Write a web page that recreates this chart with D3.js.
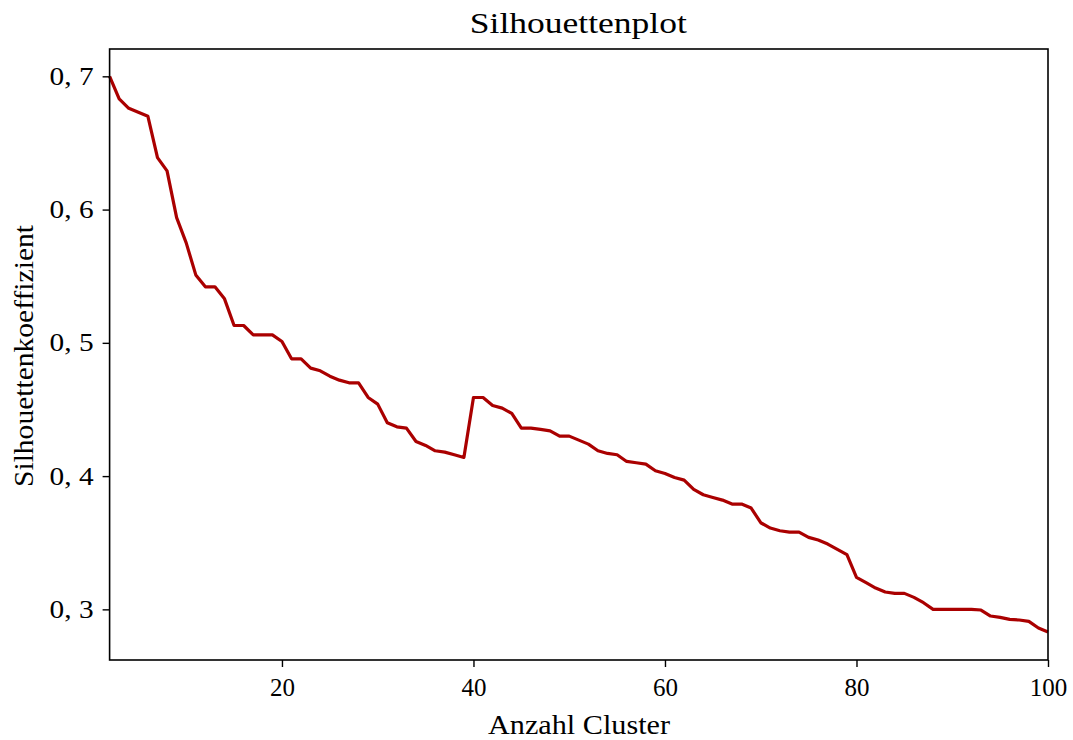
<!DOCTYPE html>
<html><head><meta charset="utf-8">
<script src="https://cdn.jsdelivr.net/npm/d3@7"></script>
<style>
html,body{margin:0;padding:0;background:#fff;}
svg text{font-family:"Liberation Serif","DejaVu Serif",serif;fill:#000;}
</style></head>
<body><svg id="c" width="1073" height="740"></svg>
<script>
const clusters = [2,3,4,5,6,7,8,9,10,11,12,13,14,15,16,17,18,19,20,21,22,23,24,25,26,27,28,29,30,31,32,33,34,35,36,37,38,39,40,41,42,43,44,45,46,47,48,49,50,51,52,53,54,55,56,57,58,59,60,61,62,63,64,65,66,67,68,69,70,71,72,73,74,75,76,77,78,79,80,81,82,83,84,85,86,87,88,89,90,91,92,93,94,95,96,97,98,99,100];
const silhouette = [0.700,0.683,0.676,0.673,0.670,0.639,0.629,0.594,0.575,0.551,0.542,0.542,0.533,0.513,0.513,0.506,0.506,0.506,0.501,0.488,0.488,0.481,0.479,0.475,0.472,0.470,0.470,0.459,0.454,0.440,0.437,0.436,0.426,0.423,0.419,0.418,0.416,0.414,0.459,0.459,0.453,0.451,0.447,0.436,0.436,0.435,0.434,0.430,0.430,0.427,0.424,0.419,0.417,0.416,0.411,0.410,0.409,0.404,0.402,0.399,0.397,0.390,0.386,0.384,0.382,0.379,0.379,0.376,0.365,0.361,0.359,0.358,0.358,0.354,0.352,0.349,0.345,0.341,0.324,0.320,0.316,0.313,0.312,0.312,0.309,0.305,0.300,0.300,0.300,0.300,0.300,0.2995,0.295,0.294,0.2925,0.292,0.291,0.286,0.283];
const xTicks = [20,40,60,80,100];
const yTicks = [0.3,0.4,0.5,0.6,0.7];
const yTickLabels = ["0, 3","0, 4","0, 5","0, 6","0, 7"];
const title = "Silhouettenplot";
const xLabel = "Anzahl Cluster";
const yLabel = "Silhouettenkoeffizient";

const L=109.6, R=1048, T=49, B=660;
const svg = d3.select("#c");
const x = d3.scaleLinear().domain([2,100]).range([L,R]);
const y = d3.scaleLinear().domain([0.262,0.7205]).range([B,T]);

const line = d3.line().x((d,i)=>x(clusters[i])).y(d=>y(d));
svg.append("path").datum(silhouette).attr("d",line)
  .attr("fill","none").attr("stroke","#aa0000").attr("stroke-width",3.2).attr("stroke-linejoin","round");

const xAxis = svg.append("g").attr("transform",`translate(0,${B})`)
  .call(d3.axisBottom(x).tickValues(xTicks).tickSize(7).tickPadding(11).tickSizeOuter(0));
const yAxis = svg.append("g").attr("transform",`translate(${L},0)`)
  .call(d3.axisLeft(y).tickValues(yTicks).tickSize(7).tickPadding(9).tickSizeOuter(0)
    .tickFormat((d,i)=>yTickLabels[i]));
[xAxis,yAxis].forEach(g=>{
  g.select(".domain").remove();
  g.selectAll(".tick line").attr("stroke","#000").attr("stroke-width",1.4);
  g.selectAll(".tick text").attr("font-size",25).attr("font-family","Liberation Serif, serif");
});
xAxis.selectAll(".tick text").attr("dy","0.71em");
yAxis.selectAll(".tick text").attr("textLength",44).attr("lengthAdjust","spacingAndGlyphs");

svg.append("rect").attr("x",L).attr("y",T).attr("width",R-L).attr("height",B-T)
  .attr("fill","none").attr("stroke","#000").attr("stroke-width",1.6);

svg.append("text").attr("x",(L+R)/2 - 0.5).attr("y",33).attr("text-anchor","middle")
  .attr("font-size",29).attr("textLength",217).attr("lengthAdjust","spacingAndGlyphs").text(title);
svg.append("text").attr("x",579).attr("y",734).attr("text-anchor","middle")
  .attr("font-size",27).attr("textLength",182).attr("lengthAdjust","spacingAndGlyphs").text(xLabel);
svg.append("text").attr("transform",`translate(33,356) rotate(-90)`).attr("text-anchor","middle")
  .attr("font-size",28).attr("textLength",262).attr("lengthAdjust","spacingAndGlyphs").text(yLabel);
</script></body></html>
